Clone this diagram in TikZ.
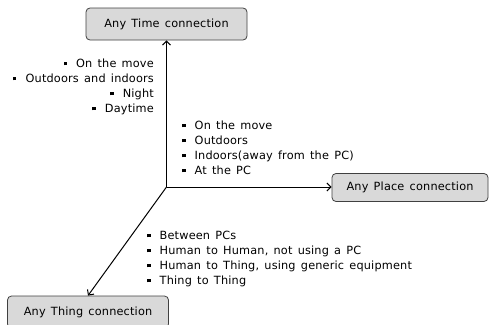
\documentclass[tikz,border=0pt]{standalone}
\usepackage{fontspec}
\setmainfont[WordSpace=1.4,LetterSpace=1.5]{DejaVu Sans}
\usetikzlibrary{arrows.meta}
\newcommand\sqbul{\makebox[12.5pt][l]{\rule[0.25ex]{3.3pt}{3.3pt}}}
\begin{document}
\begin{tikzpicture}[x=1pt,y=-1pt,
  box/.style={draw=black!75, fill=black!15, rounded corners=4pt, line width=0.8pt, inner sep=0pt, font=\fontsize{11.3}{12}\selectfont},
  arr/.style={line width=1pt, -{Straight Barb[length=4pt,width=8pt,line width=1pt]}},
  lst/.style={inner sep=0pt, font=\fontsize{11.3}{15}\selectfont}]
\useasboundingbox (0,0) rectangle (490,324);
\node[box, minimum width=161pt, minimum height=32pt] (time) at (166.5,24) {Any Time connection};
\node[box, minimum width=156pt, minimum height=28pt] (place) at (410,187.5) {Any Place connection};
\node[box, minimum width=161pt, minimum height=32pt] (thing) at (88,312) {Any Thing connection};
\coordinate (o) at (166.5,187);
\draw[arr] (o) -- (o |- time.south);
\draw[arr] (o) -- (o -| place.west);
\draw[arr] (o) -- (thing.north);
\node[lst, align=right, anchor=base east] (tl) at (154,112) {\sqbul On the move\\ \sqbul Outdoors and indoors\\ \sqbul Night\\ \sqbul Daytime};
\node[lst, align=left, anchor=base west] (pl) at (182,174) {\sqbul On the move\\ \sqbul Outdoors\\ \sqbul Indoors(away from the PC)\\ \sqbul At the PC};
\node[lst, align=left, anchor=base west] (hl) at (147,284) {\sqbul Between PCs\\ \sqbul Human to Human, not using a PC\\ \sqbul Human to Thing, using generic equipment\\ \sqbul Thing to Thing};
\end{tikzpicture}
\end{document}
